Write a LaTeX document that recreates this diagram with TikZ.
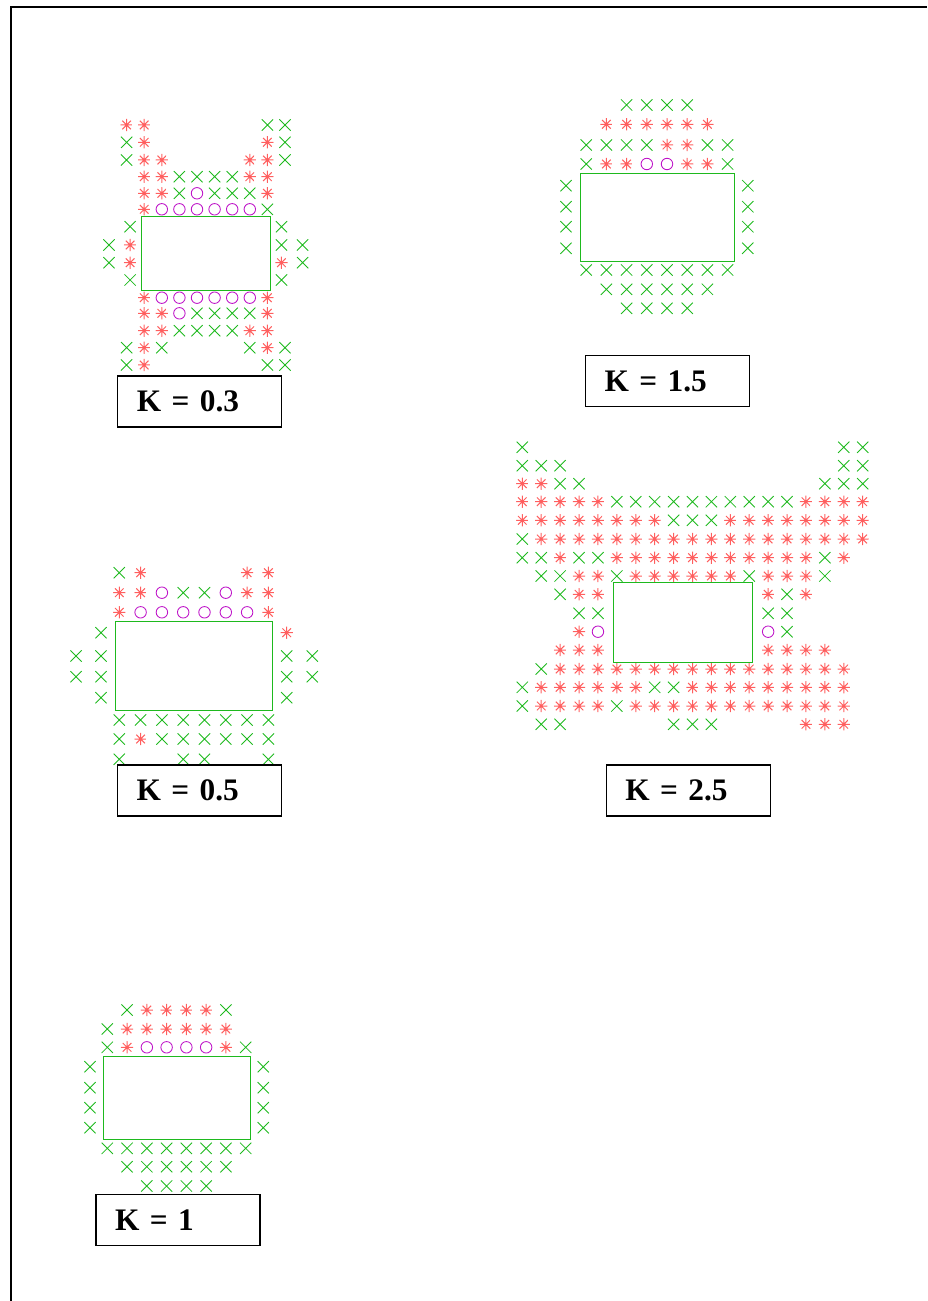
\documentclass[tikz,border=0pt]{standalone}
\usepackage{fontspec}
\setmainfont{Liberation Serif}[WordSpace=0.7]
\usetikzlibrary{shapes.misc}
\definecolor{markgreen}{RGB}{30,185,30}
\definecolor{markred}{RGB}{255,95,95}
\definecolor{markpurple}{RGB}{190,20,200}

\begin{document}
\begin{tikzpicture}[
    x=0.75pt, y=-0.75pt,
    mkx/.style={cross out, draw=markgreen, inner sep=0pt, minimum size=7.8pt, line width=0.65pt},
    mks/.style={circle, inner sep=0pt, minimum size=9.2pt, path picture={
        \draw[markred, line width=0.75pt]
          (path picture bounding box.north) -- (path picture bounding box.south)
          (path picture bounding box.west) -- (path picture bounding box.east)
          (path picture bounding box.north west) -- (path picture bounding box.south east)
          (path picture bounding box.north east) -- (path picture bounding box.south west);}},
    mko/.style={circle, draw=markpurple, inner sep=0pt, minimum size=8.6pt, line width=0.65pt},
    hole/.style={draw=markgreen, line width=0.7pt},
    kbox/.style={draw, line width=1pt, fill=white, minimum height=38.25pt, text width=94.5pt,
        inner xsep=14.25pt, align=left, font=\bfseries\fontsize{23.5}{25}\selectfont}
]
\useasboundingbox (0,0) rectangle (927,1301);

% Frame
\draw[line width=1.5pt] (11,1301) -- (11,7) -- (927,7);

% K = 0.3
\foreach \yy/\cols [count=\i] in {
    125/{1/s,2/s,9/x,10/x},
    142.3/{1/x,2/s,9/s,10/x},
    160/{1/x,2/s,3/s,8/s,9/s,10/x},
    176.7/{2/s,3/s,4/x,5/x,6/x,7/x,8/s,9/s},
    193.3/{2/s,3/s,4/x,5/o,6/x,7/x,8/x,9/s},
    209.3/{2/s,3/o,4/o,5/o,6/o,7/o,8/o,9/x},
    226.7/{1.2/x,9.8/x},
    245/{0/x,1.2/s,9.8/x,11/x},
    262.7/{0/x,1.2/s,9.8/s,11/x},
    280/{1.2/x,9.8/x},
    297.7/{2/s,3/o,4/o,5/o,6/o,7/o,8/o,9/s},
    313.3/{2/s,3/s,4/o,5/x,6/x,7/x,8/x,9/s},
    330.7/{2/s,3/s,4/x,5/x,6/x,7/x,8/s,9/s},
    347.7/{1/x,2/s,3/x,8/x,9/s,10/x},
    365/{1/x,2/s,9/x,10/x}}
  \foreach \cc/\mk [count=\j] in \cols
    \node[mk\mk] (p03-\i-\j) at (109+17.6*\cc,\yy) {};
\draw[hole] (141.7,216.7) rectangle (270.7,290);

% K = 1.5
\foreach \yy/\cols [count=\i] in {
    105/{3/x,4/x,5/x,6/x},
    124.3/{2/s,3/s,4/s,5/s,6/s,7/s},
    145/{1/x,2/x,3/x,4/x,5/s,6/s,7/x,8/x},
    164/{1/x,2/s,3/s,4/o,5/o,6/s,7/s,8/x},
    185.7/{0/x,9/x},
    206.7/{0/x,9/x},
    226.7/{0/x,9/x},
    248.3/{0/x,9/x},
    270/{1/x,2/x,3/x,4/x,5/x,6/x,7/x,8/x},
    289.3/{2/x,3/x,4/x,5/x,6/x,7/x},
    308.3/{3/x,4/x,5/x,6/x}}
  \foreach \cc/\mk [count=\j] in \cols
    \node[mk\mk] (p15-\i-\j) at (566+20.2*\cc,\yy) {};
\draw[hole] (580,173.3) rectangle (734,261.7);

% K = 0.5
\foreach \yy/\cols [count=\i] in {
    572.7/{0/x,1/s,6/s,7/s},
    592.7/{0/s,1/s,2/o,3/x,4/x,5/o,6/s,7/s},
    612.3/{0/s,1/o,2/o,3/o,4/o,5/o,6/o,7/s},
    632.7/{-0.86/x,7.86/s},
    656/{-2.03/x,-0.86/x,7.86/x,9.06/x},
    676.7/{-2.03/x,-0.86/x,7.86/x,9.06/x},
    697.7/{-0.86/x,7.86/x},
    720/{0/x,1/x,2/x,3/x,4/x,5/x,6/x,7/x},
    739/{0/x,1/s,2/x,3/x,4/x,5/x,6/x,7/x},
    759.3/{0/x,3/x,4/x,7/x}}
  \foreach \cc/\mk [count=\j] in \cols
    \node[mk\mk] (p05-\i-\j) at (119.3+21.3*\cc,\yy) {};
\draw[hole] (115,621.7) rectangle (272.3,710);

% K = 2.5
\foreach \yy/\cols [count=\i] in {
    447.3/{0/x,17/x,18/x},
    465.7/{0/x,1/x,2/x,17/x,18/x},
    483.7/{0/s,1/s,2/x,3/x,16/x,17/x,18/x},
    501.7/{0/s,1/s,2/s,3/s,4/s,5/x,6/x,7/x,8/x,9/x,10/x,11/x,12/x,13/x,14/x,15/s,16/s,17/s,18/s},
    520.3/{0/s,1/s,2/s,3/s,4/s,5/s,6/s,7/s,8/x,9/x,10/x,11/s,12/s,13/s,14/s,15/s,16/s,17/s,18/s},
    539/{0/x,1/s,2/s,3/s,4/s,5/s,6/s,7/s,8/s,9/s,10/s,11/s,12/s,13/s,14/s,15/s,16/s,17/s,18/s},
    557.7/{0/x,1/x,2/s,3/x,4/x,5/s,6/s,7/s,8/s,9/s,10/s,11/s,12/s,13/s,14/s,15/s,16/x,17/s},
    576/{1/x,2/x,3/s,4/s,5/x,6/s,7/s,8/s,9/s,10/s,11/s,12/x,13/s,14/s,15/s,16/x},
    594.3/{2/x,3/s,4/s,13/s,14/x,15/s},
    613.3/{3/x,4/x,13/x,14/x},
    631.7/{3/s,4/o,13/o,14/x},
    650/{2/s,3/s,4/s,13/s,14/s,15/s,16/s},
    669/{1/x,2/s,3/s,4/s,5/s,6/s,7/s,8/s,9/s,10/s,11/s,12/s,13/s,14/s,15/s,16/s,17/s},
    687.3/{0/x,1/s,2/s,3/s,4/s,5/s,6/s,7/x,8/x,9/s,10/s,11/s,12/s,13/s,14/s,15/s,16/s,17/s},
    706/{0/x,1/s,2/s,3/s,4/s,5/x,6/s,7/s,8/s,9/s,10/s,11/s,12/s,13/s,14/s,15/s,16/s,17/s},
    724.3/{1/x,2/x,8/x,9/x,10/x,15/s,16/s,17/s}}
  \foreach \cc/\mk [count=\j] in \cols
    \node[mk\mk] (p25-\i-\j) at (522.3+18.91*\cc,\yy) {};
\draw[hole] (613.3,582.7) rectangle (752.3,662.3);

% K = 1
\foreach \yy/\cols [count=\i] in {
    1010/{1/x,2/s,3/s,4/s,5/s,6/x},
    1029/{0/x,1/s,2/s,3/s,4/s,5/s,6/s},
    1047.3/{0/x,1/s,2/o,3/o,4/o,5/o,6/s,7/x},
    1066.7/{-0.875/x,7.89/x},
    1087.7/{-0.875/x,7.89/x},
    1107.7/{-0.875/x,7.89/x},
    1127.7/{-0.875/x,7.89/x},
    1148.3/{0/x,1/x,2/x,3/x,4/x,5/x,6/x,7/x},
    1166.7/{1/x,2/x,3/x,4/x,5/x,6/x},
    1186/{2/x,3/x,4/x,5/x}}
  \foreach \cc/\mk [count=\j] in \cols
    \node[mk\mk] (p10-\i-\j) at (107.3+19.77*\cc,\yy) {};
\draw[hole] (103.3,1056) rectangle (250,1139.3);

% Labels
\node[kbox] (k03) at (199.75,401.5) {K = 0.3};
\node[kbox] (k15) at (667.5,381) {K = 1.5};
\node[kbox] (k05) at (199.5,790.5) {K = 0.5};
\node[kbox] (k25) at (688.25,790.5) {K = 2.5};
\node[kbox] (k10) at (178,1220) {K = 1};

\end{tikzpicture}
\end{document}
